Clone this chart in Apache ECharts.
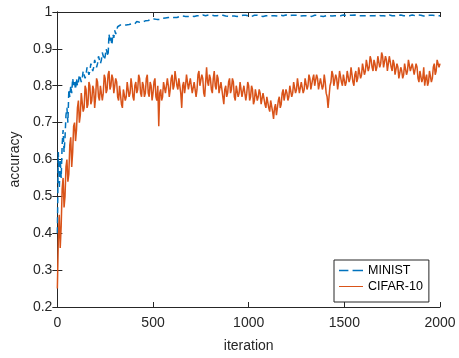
<!DOCTYPE html>
<html>
<head>
<meta charset="utf-8">
<script src="https://cdn.jsdelivr.net/npm/echarts@6/dist/echarts.min.js"></script>
<style>
  html, body { margin: 0; padding: 0; background: #fff; }
  #chart { width: 459px; height: 358px; }
</style>
</head>
<body>
<div id="chart"></div>
<script>
// iteration step between recorded points
const step = 5;

// MINIST accuracy, one value every 5 iterations (0..2000), 10 values per row
const minist = [
  0.40, 0.62, 0.52, 0.60, 0.55, 0.64, 0.68, 0.62, 0.66, 0.72,
  0.74, 0.70, 0.79, 0.77, 0.80, 0.78, 0.82, 0.80, 0.81, 0.79,
  0.82, 0.80, 0.81, 0.83, 0.83, 0.81, 0.82, 0.84, 0.84, 0.82,
  0.83, 0.85, 0.85, 0.83, 0.84, 0.86, 0.86, 0.84, 0.85, 0.87,
  0.87, 0.85, 0.86, 0.88, 0.88, 0.86, 0.87, 0.89, 0.89, 0.87,
  0.88, 0.90, 0.90, 0.88, 0.94, 0.92, 0.93, 0.91, 0.94, 0.93,
  0.95, 0.94, 0.95, 0.96, 0.96, 0.955, 0.965, 0.96, 0.96, 0.965,
  0.968, 0.962, 0.965, 0.97, 0.97, 0.966, 0.965, 0.968, 0.968, 0.965,
  0.972, 0.968, 0.97, 0.974, 0.975, 0.971, 0.972, 0.976, 0.975, 0.973,
  0.978, 0.975, 0.976, 0.979, 0.98, 0.977, 0.978, 0.981, 0.98, 0.978,
  0.978, 0.981, 0.981, 0.979, 0.98, 0.983, 0.982, 0.98, 0.981, 0.983,
  0.983, 0.981, 0.982, 0.984, 0.984, 0.982, 0.985, 0.986, 0.984, 0.986,
  0.986, 0.984, 0.985, 0.987, 0.987, 0.985, 0.986, 0.988, 0.988, 0.986,
  0.987, 0.989, 0.989, 0.987, 0.988, 0.990, 0.989, 0.988, 0.990, 0.989,
  0.989, 0.991, 0.990, 0.988, 0.991, 0.992, 0.990, 0.989, 0.991, 0.990,
  0.988, 0.990, 0.992, 0.991, 0.989, 0.990, 0.991, 0.989, 0.992, 0.990,
  0.990, 0.992, 0.991, 0.989, 0.990, 0.988, 0.991, 0.990, 0.989, 0.991,
  0.992, 0.990, 0.989, 0.991, 0.990, 0.992, 0.989, 0.990, 0.991, 0.988,
  0.990, 0.991, 0.989, 0.992, 0.990, 0.989, 0.991, 0.990, 0.988, 0.991,
  0.991, 0.989, 0.990, 0.992, 0.991, 0.989, 0.990, 0.991, 0.992, 0.990,
  0.989, 0.991, 0.990, 0.988, 0.990, 0.992, 0.991, 0.989, 0.990, 0.991,
  0.992, 0.990, 0.989, 0.991, 0.990, 0.988, 0.991, 0.992, 0.990, 0.989,
  0.991, 0.990, 0.992, 0.989, 0.990, 0.991, 0.989, 0.990, 0.992, 0.991,
  0.989, 0.990, 0.991, 0.992, 0.990, 0.988, 0.990, 0.991, 0.989, 0.992,
  0.990, 0.991, 0.989, 0.990, 0.992, 0.991, 0.989, 0.990, 0.991, 0.990,
  0.988, 0.991, 0.990, 0.992, 0.989, 0.990, 0.991, 0.990, 0.992, 0.989,
  0.990, 0.992, 0.991, 0.989, 0.990, 0.991, 0.988, 0.990, 0.992, 0.991,
  0.989, 0.990, 0.991, 0.990, 0.992, 0.989, 0.991, 0.990, 0.988, 0.991,
  0.992, 0.990, 0.989, 0.991, 0.990, 0.992, 0.991, 0.989, 0.990, 0.991,
  0.990, 0.988, 0.991, 0.990, 0.992, 0.989, 0.990, 0.991, 0.990, 0.992,
  0.991, 0.989, 0.990, 0.992, 0.990, 0.991, 0.989, 0.990, 0.991, 0.988,
  0.990, 0.992, 0.991, 0.989, 0.990, 0.991, 0.992, 0.990, 0.989, 0.991,
  0.990, 0.991, 0.989, 0.990, 0.992, 0.991, 0.990, 0.988, 0.991, 0.990,
  0.992, 0.989, 0.990, 0.991, 0.990, 0.992, 0.989, 0.991, 0.990, 0.989,
  0.991, 0.990, 0.992, 0.990, 0.989, 0.991, 0.990, 0.992, 0.991, 0.989,
  0.990, 0.991, 0.988, 0.990, 0.992, 0.990, 0.991, 0.989, 0.990, 0.992,
  0.991, 0.989, 0.990, 0.991, 0.992, 0.990, 0.989, 0.991, 0.990, 0.988,
  0.990, 0.992, 0.991, 0.989, 0.990, 0.991, 0.990, 0.992, 0.989, 0.990,
  0.991, 0.990, 0.992, 0.989, 0.990, 0.991, 0.989, 0.990, 0.992, 0.991,
  0.990, 0.989, 0.991, 0.990, 0.992, 0.990, 0.989, 0.991, 0.990, 0.991,
  0.990
];

// CIFAR-10 accuracy, one value every 5 iterations (0..2000), 10 values per row
const cifar = [
  0.25, 0.38, 0.45, 0.36, 0.42, 0.52, 0.55, 0.47, 0.50, 0.58,
  0.60, 0.54, 0.56, 0.64, 0.66, 0.58, 0.62, 0.69, 0.70, 0.65,
  0.68, 0.74, 0.76, 0.70, 0.72, 0.78, 0.78, 0.73, 0.74, 0.80,
  0.79, 0.74, 0.75, 0.81, 0.80, 0.75, 0.76, 0.80, 0.79, 0.74,
  0.77, 0.82, 0.81, 0.77, 0.76, 0.80, 0.80, 0.76, 0.78, 0.83,
  0.82, 0.78, 0.79, 0.83, 0.84, 0.79, 0.80, 0.83, 0.82, 0.78,
  0.78, 0.82, 0.81, 0.77, 0.76, 0.80, 0.80, 0.75, 0.74, 0.79,
  0.79, 0.76, 0.77, 0.81, 0.81, 0.77, 0.78, 0.82, 0.80, 0.77,
  0.76, 0.80, 0.81, 0.78, 0.79, 0.83, 0.82, 0.78, 0.77, 0.81,
  0.80, 0.77, 0.78, 0.82, 0.83, 0.78, 0.77, 0.81, 0.80, 0.76,
  0.78, 0.81, 0.82, 0.77, 0.76, 0.80, 0.69, 0.78, 0.79, 0.76,
  0.77, 0.81, 0.81, 0.78, 0.78, 0.82, 0.80, 0.77, 0.79, 0.82,
  0.83, 0.79, 0.80, 0.84, 0.84, 0.80, 0.79, 0.82, 0.82, 0.78,
  0.74, 0.80, 0.81, 0.78, 0.80, 0.83, 0.83, 0.79, 0.79, 0.82,
  0.82, 0.78, 0.78, 0.81, 0.81, 0.77, 0.79, 0.83, 0.84, 0.80,
  0.80, 0.83, 0.82, 0.78, 0.77, 0.81, 0.85, 0.81, 0.80, 0.83,
  0.82, 0.79, 0.78, 0.82, 0.84, 0.80, 0.79, 0.83, 0.82, 0.78,
  0.78, 0.81, 0.81, 0.77, 0.75, 0.79, 0.80, 0.77, 0.78, 0.81,
  0.82, 0.78, 0.79, 0.82, 0.81, 0.77, 0.76, 0.80, 0.80, 0.77,
  0.78, 0.81, 0.81, 0.77, 0.77, 0.80, 0.80, 0.76, 0.78, 0.81,
  0.80, 0.76, 0.77, 0.80, 0.79, 0.75, 0.76, 0.79, 0.79, 0.76,
  0.77, 0.79, 0.78, 0.75, 0.75, 0.78, 0.78, 0.75, 0.74, 0.77,
  0.77, 0.74, 0.73, 0.76, 0.76, 0.73, 0.71, 0.74, 0.75, 0.72,
  0.72, 0.76, 0.77, 0.74, 0.75, 0.78, 0.79, 0.76, 0.76, 0.79,
  0.78, 0.76, 0.77, 0.80, 0.80, 0.77, 0.78, 0.81, 0.81, 0.78,
  0.79, 0.82, 0.80, 0.78, 0.78, 0.81, 0.81, 0.78, 0.79, 0.82,
  0.82, 0.79, 0.80, 0.83, 0.82, 0.79, 0.79, 0.82, 0.83, 0.80,
  0.80, 0.83, 0.82, 0.79, 0.79, 0.82, 0.82, 0.79, 0.80, 0.83,
  0.81, 0.78, 0.77, 0.74, 0.74, 0.80, 0.81, 0.84, 0.83, 0.80,
  0.80, 0.83, 0.82, 0.79, 0.81, 0.84, 0.84, 0.81, 0.80, 0.83,
  0.83, 0.80, 0.81, 0.84, 0.84, 0.81, 0.82, 0.85, 0.83, 0.81,
  0.80, 0.83, 0.84, 0.81, 0.82, 0.85, 0.85, 0.82, 0.83, 0.86,
  0.86, 0.83, 0.84, 0.87, 0.87, 0.84, 0.85, 0.88, 0.87, 0.85,
  0.84, 0.87, 0.86, 0.84, 0.85, 0.88, 0.88, 0.85, 0.86, 0.89,
  0.88, 0.85, 0.85, 0.88, 0.87, 0.84, 0.86, 0.88, 0.88, 0.85,
  0.84, 0.87, 0.86, 0.83, 0.83, 0.86, 0.85, 0.82, 0.82, 0.85,
  0.84, 0.82, 0.83, 0.86, 0.86, 0.83, 0.84, 0.87, 0.87, 0.84,
  0.84, 0.86, 0.86, 0.83, 0.83, 0.86, 0.85, 0.82, 0.81, 0.84,
  0.84, 0.81, 0.82, 0.85, 0.80, 0.82, 0.83, 0.80, 0.81, 0.84,
  0.84, 0.81, 0.82, 0.85, 0.86, 0.83, 0.84, 0.87, 0.87, 0.85,
  0.86
];

const seriesNames = ['MINIST', 'CIFAR-10'];

const toPairs = arr => arr.map((v, i) => [i * step, v]);

const axisColor = '#262626';
const font = 'Arial, "Liberation Sans", sans-serif';

const chart = echarts.init(document.getElementById('chart'));

const xCommon = {
  type: 'value',
  min: 0,
  max: 2000,
  interval: 500,
  axisLine: { show: true, lineStyle: { color: axisColor, width: 1 } },
  axisTick: { show: true, inside: true, length: 5, lineStyle: { color: axisColor } },
  splitLine: { show: false }
};
const yCommon = {
  type: 'value',
  min: 0.2,
  max: 1,
  interval: 0.1,
  axisLine: { show: true, lineStyle: { color: axisColor, width: 1 } },
  axisTick: { show: true, inside: true, length: 5, lineStyle: { color: axisColor } },
  splitLine: { show: false }
};

chart.setOption({
  animation: false,
  backgroundColor: '#fff',
  grid: { left: 55, right: 19, top: 12, bottom: 47 },
  legend: {
    orient: 'vertical',
    left: 334,
    top: 260,
    padding: [4, 6, 9, 5],
    itemWidth: 24,
    itemHeight: 14,
    itemGap: 3,
    backgroundColor: '#fff',
    borderColor: axisColor,
    borderWidth: 1,
    borderRadius: 0,
    textStyle: { fontFamily: font, fontSize: 12.5, color: '#000' },
    data: [
      { name: seriesNames[0], icon: 'path://M0,0h9v1.6h-9z M13,0h10v1.6h-10z' },
      { name: seriesNames[1], icon: 'path://M0,0h23v1h-23z' }
    ]
  },
  xAxis: [
    Object.assign({}, xCommon, {
      position: 'bottom',
      name: 'iteration',
      nameLocation: 'middle',
      nameGap: 32,
      nameTextStyle: { fontFamily: font, fontSize: 14, color: axisColor },
      axisLabel: { fontFamily: font, fontSize: 14, color: axisColor, margin: 9, formatter: v => String(v) }
    }),
    Object.assign({}, xCommon, { position: 'top', axisLabel: { show: false } })
  ],
  yAxis: [
    Object.assign({}, yCommon, {
      position: 'left',
      name: 'accuracy',
      nameLocation: 'middle',
      nameGap: 30,
      nameTextStyle: { fontFamily: font, fontSize: 14, color: axisColor },
      axisLabel: {
        fontFamily: font, fontSize: 14, color: axisColor, margin: 5,
        formatter: v => String(+v.toFixed(1))
      }
    }),
    Object.assign({}, yCommon, { position: 'right', axisLabel: { show: false } })
  ],
  series: [
    {
      name: seriesNames[0],
      type: 'line',
      data: toPairs(minist),
      showSymbol: false,
      symbol: 'none',
      color: '#0072BD',
      lineStyle: { color: '#0072BD', width: 1.5, type: [6, 4] }
    },
    {
      name: seriesNames[1],
      type: 'line',
      data: toPairs(cifar),
      showSymbol: false,
      symbol: 'none',
      color: '#D95319',
      lineStyle: { color: '#D95319', width: 1.5 }
    }
  ]
});
</script>
</body>
</html>
